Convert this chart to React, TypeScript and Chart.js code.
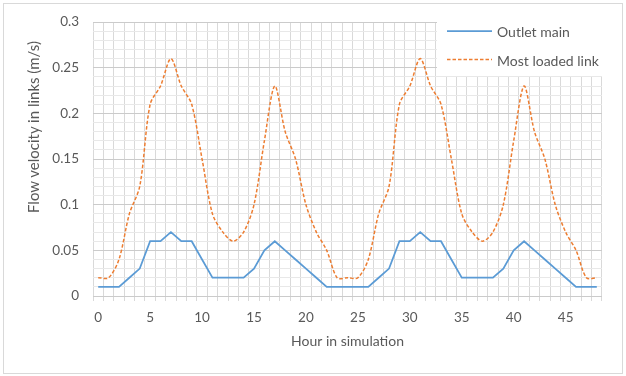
import React, { useEffect, useRef } from 'react';
import { Chart, registerables } from 'chart.js';

Chart.register(...registerables);

const hours = [
  '0', '1', '2', '3', '4', '5', '6', '7', '8', '9',
  '10', '11', '12', '13', '14', '15', '16', '17', '18', '19',
  '20', '21', '22', '23', '24', '25', '26', '27', '28', '29',
  '30', '31', '32', '33', '34', '35', '36', '37', '38', '39',
  '40', '41', '42', '43', '44', '45', '46', '47', '48',
];

const outletMain = [
  0.01, 0.01, 0.01, 0.02, 0.03, 0.06, 0.06, 0.07, 0.06, 0.06,
  0.04, 0.02, 0.02, 0.02, 0.02, 0.03, 0.05, 0.06, 0.05, 0.04,
  0.03, 0.02, 0.01, 0.01, 0.01, 0.01, 0.01, 0.02, 0.03, 0.06,
  0.06, 0.07, 0.06, 0.06, 0.04, 0.02, 0.02, 0.02, 0.02, 0.03,
  0.05, 0.06, 0.05, 0.04, 0.03, 0.02, 0.01, 0.01, 0.01,
];

const mostLoadedLink = [
  0.02, 0.02, 0.04, 0.09, 0.12, 0.21, 0.23, 0.26, 0.23, 0.21,
  0.15, 0.09, 0.07, 0.06, 0.07, 0.10, 0.17, 0.23, 0.18, 0.15,
  0.10, 0.07, 0.05, 0.02, 0.02, 0.02, 0.04, 0.09, 0.12, 0.21,
  0.23, 0.26, 0.23, 0.21, 0.15, 0.09, 0.07, 0.06, 0.07, 0.10,
  0.17, 0.23, 0.18, 0.15, 0.10, 0.07, 0.05, 0.02, 0.02,
];

const seriesNames = ['Outlet main', 'Most loaded link'];
const seriesColors = ['#5b9bd5', '#ed7d31'];
const xTitle = 'Hour in simulation';
const yTitle = 'Flow velocity in links (m/s)';

const FONT = 'Lato, "Open Sans", sans-serif';
const TEXT = '#595959';

const legendPlugin = {
  id: 'boxLegend',
  afterDraw(chart: any) {
    const ctx = chart.ctx;
    ctx.save();
    ctx.fillStyle = '#ffffff';
    ctx.fillRect(437, 14, 176, 62);
    const rows = [31, 59.5];
    for (let i = 0; i < 2; i++) {
      const y = rows[i];
      ctx.beginPath();
      ctx.strokeStyle = seriesColors[i];
      ctx.lineWidth = i === 0 ? 1.75 : 1.5;
      ctx.setLineDash(i === 0 ? [] : [3.5, 2]);
      ctx.moveTo(447, y);
      ctx.lineTo(492, y);
      ctx.stroke();
      ctx.setLineDash([]);
      ctx.fillStyle = TEXT;
      ctx.font = '14px ' + FONT;
      ctx.textBaseline = 'middle';
      ctx.textAlign = 'left';
      ctx.fillText(seriesNames[i], 497, y + 1.5);
    }
    ctx.restore();
  },
};

export default function App() {
  const ref = useRef<HTMLCanvasElement | null>(null);

  useEffect(() => {
    if (!ref.current) return;
    const chart = new Chart(ref.current, {
      type: 'line',
      data: {
        labels: hours,
        datasets: [
          {
            label: seriesNames[0],
            data: outletMain,
            borderColor: seriesColors[0],
            backgroundColor: seriesColors[0],
            borderWidth: 1.75,
            pointRadius: 0,
            tension: 0,
            fill: false,
          },
          {
            label: seriesNames[1],
            data: mostLoadedLink,
            borderColor: seriesColors[1],
            backgroundColor: seriesColors[1],
            borderWidth: 1.5,
            borderDash: [3.5, 2],
            pointRadius: 0,
            tension: 0.3,
            fill: false,
          },
        ],
      },
      options: {
        animation: false,
        responsive: false,
        maintainAspectRatio: false,
        layout: { padding: { left: 0, top: 20, right: 24, bottom: 0 } },
        plugins: { legend: { display: false }, tooltip: { enabled: false } },
        scales: {
          x: {
            type: 'category',
            offset: true,
            border: { display: false },
            grid: {
              offset: true,
              color: '#d9d9d9',
              lineWidth: 1,
              drawTicks: true,
              tickLength: 5,
            },
            ticks: {
              autoSkip: false,
              maxRotation: 0,
              minRotation: 0,
              padding: 9,
              color: TEXT,
              font: { family: FONT, size: 13.5 },
              callback: (_v: any, i: number) => (i % 5 === 0 ? hours[i] : ''),
            },
            title: {
              display: true,
              text: xTitle,
              color: TEXT,
              font: { family: FONT, size: 14 },
              padding: { top: 0, bottom: 26 },
            },
            afterFit: (s: any) => {
              s.height = 80;
            },
          },
          y: {
            type: 'linear',
            min: 0,
            max: 0.3,
            border: { display: false },
            grid: {
              drawTicks: false,
              color: (c: any) =>
                Math.round(c.tick.value * 100) % 5 === 0 ? '#cbcbcb' : '#e8e8e8',
            },
            ticks: {
              stepSize: 0.01,
              maxTicksLimit: 100,
              autoSkip: false,
              padding: 14,
              color: TEXT,
              font: { family: FONT, size: 13.5 },
              callback: (v: any) => {
                const n = Math.round(Number(v) * 100);
                return n % 5 === 0 ? String(n / 100) : '';
              },
            },
            afterFit: (s: any) => {
              s.width = 93;
            },
          },
        },
      },
      plugins: [legendPlugin],
    });
    return () => chart.destroy();
  }, []);

  return (
    <div
      style={{
        position: 'fixed',
        left: 0,
        top: 0,
        width: 626,
        height: 376,
        background: '#ffffff',
        overflow: 'hidden',
      }}
    >
      <canvas ref={ref} width={626} height={376} style={{ position: 'absolute', left: 0, top: 0 }} />
      <div
        style={{
          position: 'absolute',
          left: 3,
          top: 3,
          width: 618,
          height: 369,
          border: '1px solid #d9d9d9',
          pointerEvents: 'none',
        }}
      />
      <div
        style={{
          position: 'absolute',
          left: 33,
          top: 127,
          transform: 'translate(-50%, -50%) rotate(-90deg)',
          whiteSpace: 'nowrap',
          fontFamily: FONT,
          fontSize: 15,
          color: TEXT,
          lineHeight: '16px',
        }}
      >
        {yTitle}
      </div>
    </div>
  );
}
